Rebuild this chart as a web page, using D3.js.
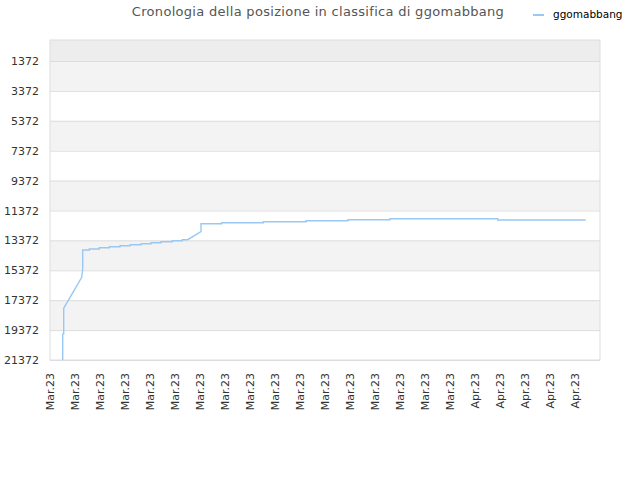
<!DOCTYPE html>
<html>
<head>
<meta charset="utf-8">
<script src="https://cdn.jsdelivr.net/npm/d3@7"></script>
<style>
  body { margin: 0; background: #fff; }
  text { font-family: "DejaVu Sans", sans-serif; }
</style>
</head>
<body>
<div id="chart"></div>
<script>
// days since first tick, rank position
var days = [0.508, 0.508, 0.548, 0.548, 1.268, 1.308, 1.308, 1.572, 1.572, 1.972, 1.972, 2.372, 2.372,
  2.8, 2.8, 3.2, 3.2, 3.64, 3.64, 4.04, 4.04, 4.44, 4.44, 4.892, 4.892, 5.292, 5.292,
  5.508, 6.04, 6.04, 6.868, 6.868, 8.532, 8.532, 10.24, 10.24, 11.92, 11.92, 13.6, 13.6,
  17.908, 17.908, 21.428];
var ranks = [21372, 19650, 19630, 17914, 15840, 15300, 14014, 14014, 13947, 13947, 13860, 13860, 13793,
  13793, 13726, 13726, 13659, 13659, 13593, 13593, 13526, 13526, 13459, 13459, 13392, 13392, 13325,
  13325, 12790, 12255, 12255, 12188, 12188, 12121, 12121, 12054, 12054, 11987, 11987, 11920,
  11920, 12007, 12007];

var yTicks = [1372, 3372, 5372, 7372, 9372, 11372, 13372, 15372, 17372, 19372, 21372];
var xTickLabels = ["Mar.23", "Mar.23", "Mar.23", "Mar.23", "Mar.23", "Mar.23", "Mar.23", "Mar.23",
  "Mar.23", "Mar.23", "Mar.23", "Mar.23", "Mar.23", "Mar.23", "Mar.23", "Mar.23", "Mar.23",
  "Apr.23", "Apr.23", "Apr.23", "Apr.23", "Apr.23"];
var seriesName = "ggomabbang";

var width = 640;
var height = 480;
var margin = {top: 40, left: 50, right: 40, bottom: 120};

var svg = d3.select("#chart")
  .append("svg")
  .attr("width", width)
  .attr("height", height);

var xScale = d3.scaleLinear()
  .domain([0, 22])
  .range([margin.left, width - margin.right]);

var yScale = d3.scaleLinear()
  .domain([21372, -33])
  .range([height - margin.bottom, margin.top]);

// alternating bands between ticks
var bandEdges = [-33].concat(yTicks);
svg.selectAll("rect.band")
  .data(d3.pairs(bandEdges))
  .enter()
  .append("rect")
    .attr("class", "band")
    .attr("x", margin.left)
    .attr("y", function(d) { return yScale(d[0]); })
    .attr("width", width - margin.right - margin.left)
    .attr("height", function(d) { return yScale(d[1]) - yScale(d[0]); })
    .attr("fill", function(d, i) { return i == 0 ? "#ededed" : (i % 2 == 1 ? "#f3f3f3" : "#ffffff"); });

var yAxis = svg.append("g")
  .attr("transform", `translate(${margin.left},0)`)
  .call(d3.axisLeft(yScale)
    .tickValues(yTicks)
    .tickSize(-(width - margin.right - margin.left))
    .tickFormat(d3.format("d")));
yAxis.select(".domain").remove();
yAxis.selectAll(".tick line").attr("stroke", "#dddddd");
yAxis.selectAll(".tick text")
  .attr("x", -11)
  .attr("fill", "#333")
  .style("font-size", "11px")
  .style("font-family", "DejaVu Sans");

// plot frame
svg.append("rect")
  .attr("x", margin.left)
  .attr("y", margin.top)
  .attr("width", width - margin.right - margin.left)
  .attr("height", height - margin.bottom - margin.top)
  .attr("fill", "none")
  .attr("stroke", "#dddddd");

var xAxis = svg.append("g")
  .attr("transform", `translate(0,${height - margin.bottom})`)
  .call(d3.axisBottom(xScale)
    .tickValues(d3.range(xTickLabels.length))
    .tickSize(0)
    .tickFormat(function(d) { return xTickLabels[d]; }));
xAxis.select(".domain").remove();
xAxis.selectAll(".tick text")
  .attr("transform", "rotate(-90)")
  .attr("x", -13)
  .attr("y", 0)
  .attr("dy", "0.35em")
  .attr("text-anchor", "end")
  .attr("fill", "#333")
  .style("font-size", "11px")
  .style("font-family", "DejaVu Sans");

var line = d3.line()
  .x(function(d) { return xScale(d[0]); })
  .y(function(d) { return yScale(d[1]); });

svg.append("path")
  .datum(d3.zip(days, ranks))
  .attr("d", line)
  .attr("fill", "none")
  .attr("stroke", "#99c8f4")
  .attr("stroke-width", 1.4);

var title = svg.append("text")
  .attr("x", 318)
  .attr("y", 16)
  .attr("text-anchor", "middle")
  .attr("fill", "#555")
  .style("font-size", "13px")
  .style("letter-spacing", "0.3px")
  .text("Cronologia della posizione in classifica di " + seriesName);

svg.append("line")
  .attr("x1", 533).attr("x2", 544)
  .attr("y1", 15).attr("y2", 15)
  .attr("stroke", "#99c8f4")
  .attr("stroke-width", 2);

svg.append("text")
  .attr("x", 553)
  .attr("y", 18)
  .attr("fill", "#000")
  .style("font-size", "10.5px")
  .text(seriesName);
</script>
</body>
</html>
